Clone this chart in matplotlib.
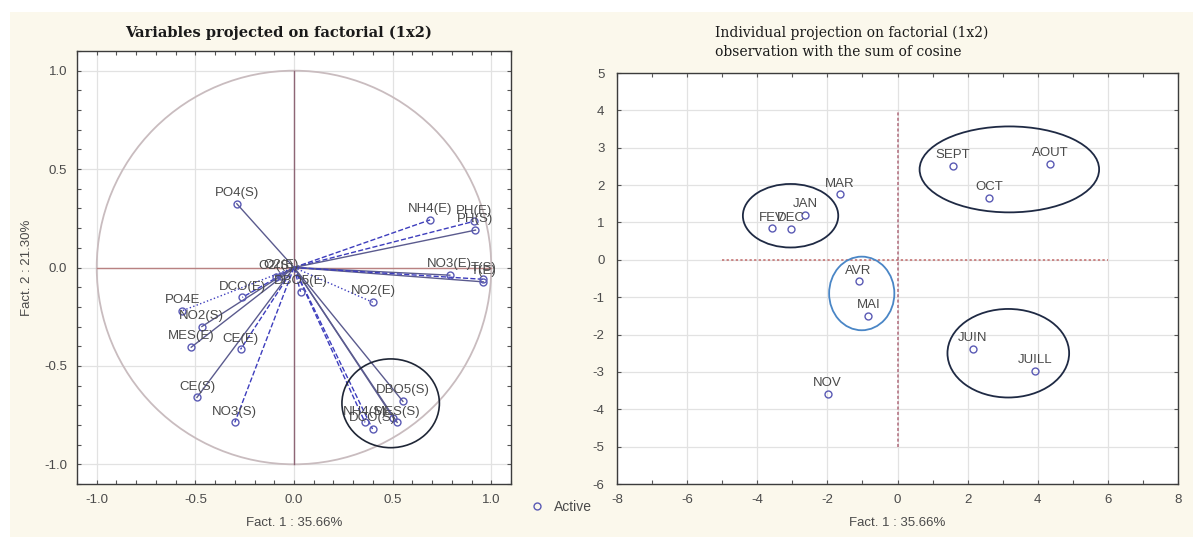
import matplotlib
matplotlib.use("Agg")
import matplotlib.pyplot as plt
from matplotlib.patches import Ellipse, Circle, Rectangle
from matplotlib.lines import Line2D
import numpy as np

plt.rcParams['font.family'] = ['Liberation Sans', 'DejaVu Sans']
plt.rcParams['axes.unicode_minus'] = False

# ---------------- data: variables (left panel) ----------------
var_names = ["PO4(S)", "NH4(E)", "PH(E)", "PH(S)", "NO3(E)", "T(E)", "T(S)",
             "NO2(E)", "DBO5(E)", "O2(S)", "O2(E)", "DCO(E)", "PO4E", "NO2(S)",
             "MES(E)", "CE(E)", "CE(S)", "NO3(S)", "NH4(S)", "DCO(S)", "",
             "MES(S)", "DBO5(S)"]
var_x = [-0.29, 0.69, 0.91, 0.92, 0.79, 0.96, 0.96,
         0.40, 0.033, -0.092, -0.067, -0.262, -0.567, -0.467,
         -0.521, -0.271, -0.492, -0.30, 0.36, 0.398, 0.504,
         0.523, 0.552]
var_y = [0.324, 0.242, 0.234, 0.19, -0.039, -0.073, -0.06,
         -0.177, -0.123, -0.047, -0.042, -0.152, -0.22, -0.30,
         -0.405, -0.416, -0.66, -0.787, -0.787, -0.821, -0.765,
         -0.787, -0.68]
var_line = ['-', '--', '--', '-', '-', '-', '--',
            ':', '--', '-', '--', '--', ':', '-',
            '-', '--', '-', '--', '--', '--', '-',
            '-', '-']

# ---------------- data: individuals (right panel) ----------------
months = ["SEPT", "AOUT", "OCT", "MAR", "JAN", "FEV", "DEC",
          "AVR", "MAI", "JUIN", "JUILL", "NOV"]
month_x = [1.58, 4.35, 2.62, -1.65, -2.63, -3.58, -3.04,
           -1.11, -0.83, 2.14, 3.92, -1.99]
month_y = [2.52, 2.57, 1.66, 1.75, 1.21, 0.84, 0.82,
           -0.58, -1.50, -2.39, -2.97, -3.59]

# ---------------- figure ----------------
W, H = 1193, 542
fig = plt.figure(figsize=(W / 100, H / 100), dpi=100, facecolor='white')

cream = '#FBF8EC'
fig.patches.append(Rectangle((10 / W, 5 / H), 587 / W, 525 / H, transform=fig.transFigure,
                             facecolor=cream, edgecolor='none', zorder=-10))
fig.patches.append(Rectangle((597 / W, 5 / H), 596 / W, 525 / H, transform=fig.transFigure,
                             facecolor=cream, edgecolor='none', zorder=-10))

txt_col = '#4a4a4a'
mk_col = '#5a5ab4'
spine_col = '#3c3c3c'
grid_col = '#e2e2e2'


def style_axes(ax):
    for s in ax.spines.values():
        s.set_color(spine_col)
        s.set_linewidth(1.0)
    ax.tick_params(which='both', direction='in', top=True, right=True,
                   length=3, width=0.8, color='#555555', labelcolor=txt_col,
                   labelsize=9.5, pad=7)
    ax.grid(True, which='major', color=grid_col, linewidth=0.9)
    ax.set_axisbelow(True)


# ---------------- left panel ----------------
axL = fig.add_axes([77 / W, 58 / H, 434 / W, 433 / H])
axL.set_facecolor('white')
axL.set_xlim(-1.1, 1.1)
axL.set_ylim(-1.1, 1.1)
axL.set_xticks([-1.0, -0.5, 0.0, 0.5, 1.0])
axL.set_yticks([-1.0, -0.5, 0.0, 0.5, 1.0])
axL.set_xticks(np.arange(-1.1, 1.11, 0.1), minor=True)
axL.set_yticks(np.arange(-1.1, 1.11, 0.1), minor=True)
axL.xaxis.set_major_formatter(matplotlib.ticker.FormatStrFormatter('%.1f'))
axL.yaxis.set_major_formatter(matplotlib.ticker.FormatStrFormatter('%.1f'))
style_axes(axL)

axL.add_patch(Circle((0, 0), 1.0, fill=False, edgecolor='#c9bcbf', linewidth=1.3, zorder=1))
axL.plot([-1, 1], [0, 0], color='#b98282', linewidth=1.0, zorder=1)
axL.plot([0, 0], [-1, 1], color='#8e6676', linewidth=1.0, zorder=1)

for x, y, ls in zip(var_x, var_y, var_line):
    c = '#5b5b8e' if ls == '-' else '#3d3dbd'
    axL.plot([0, x], [0, y], linestyle=ls, color=c, linewidth=1.0, zorder=2)
axL.plot(var_x, var_y, 'o', mfc='none', mec=mk_col, mew=1.0, ms=5, zorder=3,
         label='Active')
for x, y, n in zip(var_x, var_y, var_names):
    if n:
        axL.annotate(n, (x, y), xytext=(0, 3.5), textcoords='offset points',
                     ha='center', va='bottom', fontsize=9.5, color=txt_col, zorder=4)

axL.add_patch(Ellipse((0.49, -0.69), 0.494, 0.451, fill=False,
                      edgecolor='#1f2636', linewidth=1.2, zorder=4))

axL.set_xlabel('Fact. 1 : 35.66%', fontsize=9.5, color=txt_col, labelpad=8)
axL.set_ylabel('Fact. 2 : 21.30%', fontsize=9.5, color=txt_col, labelpad=8)
axL.set_title('Variables projected on factorial (1x2)', family='DejaVu Serif',
              fontweight='bold', fontsize=10.5, color='#1a1a1a', x=0.465, pad=10)

axL.legend(loc='center left', bbox_to_anchor=(522 / W, (542 - 507) / H),
           bbox_transform=fig.transFigure, frameon=False, fontsize=10,
           handlelength=1.2, handletextpad=0.6, borderpad=0, labelcolor=txt_col)

# ---------------- right panel ----------------
axR = fig.add_axes([617 / W, 58 / H, 561 / W, 411 / H])
axR.set_facecolor('white')
axR.set_xlim(-8, 8)
axR.set_ylim(-6, 5)
axR.set_xticks(np.arange(-8, 9, 2))
axR.set_xticks(np.arange(-8, 9, 1), minor=True)
axR.set_yticks(np.arange(-6, 6, 1))
style_axes(axR)
axR.tick_params(axis='y', pad=9)

axR.plot([-5, 6], [0, 0], linestyle=(0, (1.5, 1.5)), color='#c26a6a', linewidth=1.1, zorder=1)
axR.plot([0, 0], [-5, 4], linestyle=(0, (2, 1.5)), color='#b06a7a', linewidth=1.1, zorder=1)

axR.plot(month_x, month_y, 'o', mfc='none', mec=mk_col, mew=1.0, ms=5, zorder=3)
for x, y, n in zip(month_x, month_y, months):
    axR.annotate(n, (x, y), xytext=(0, 3.5), textcoords='offset points',
                 ha='center', va='bottom', fontsize=9.5, color=txt_col, zorder=4)

dark = '#1f2a44'
axR.add_patch(Ellipse((3.19, 2.42), 5.12, 2.30, fill=False, edgecolor=dark, linewidth=1.3))
axR.add_patch(Ellipse((-3.05, 1.18), 2.72, 1.70, fill=False, edgecolor=dark, linewidth=1.3))
axR.add_patch(Ellipse((-1.02, -0.90), 1.86, 1.97, fill=False, edgecolor='#4a86c6', linewidth=1.3))
axR.add_patch(Ellipse((3.16, -2.50), 3.47, 2.37, fill=False, edgecolor=dark, linewidth=1.3))

axR.set_xlabel('Fact. 1 : 35.66%', fontsize=9.5, color=txt_col, labelpad=8)
axR.text(0.175, 1.035, 'Individual projection on factorial (1x2)\nobservation with the sum of cosine',
         transform=axR.transAxes, ha='left', va='bottom', family='DejaVu Serif',
         fontsize=10, color='#1a1a1a', linespacing=1.45)

fig.savefig('out.png', dpi=100, facecolor='white')
